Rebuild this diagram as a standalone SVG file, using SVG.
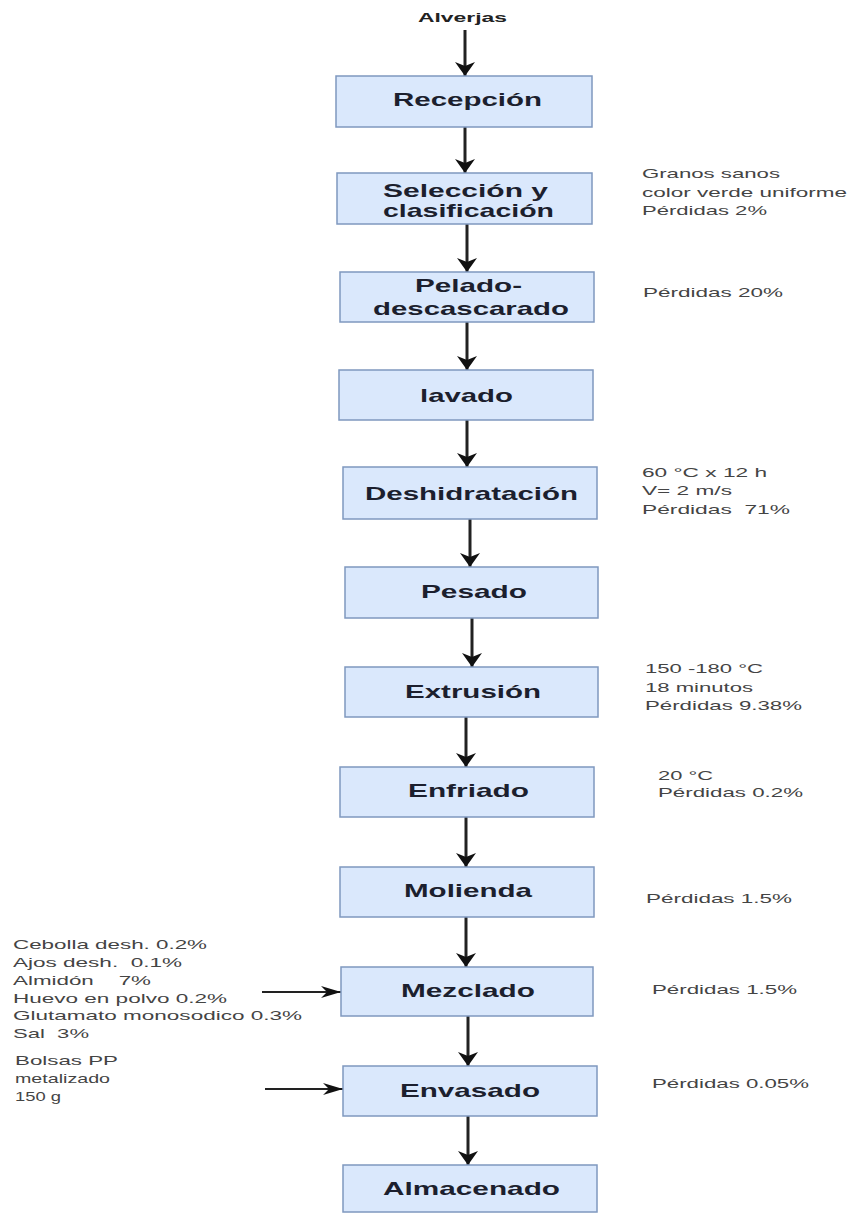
<svg xmlns="http://www.w3.org/2000/svg" width="851" height="1213" viewBox="0 0 851 1213" xml:space="preserve">
<style>
.box{fill:#dae8fc;stroke:#7f98bf;stroke-width:1.5}
.bt{font-family:"Liberation Sans",Arial,sans-serif;font-weight:bold;font-size:19px;fill:#1c1f2e}
.st{font-family:"Liberation Sans",Arial,sans-serif;font-size:13px;fill:#444;white-space:pre}
.top{font-family:"Liberation Sans",Arial,sans-serif;font-weight:bold;font-size:13px;fill:#222}
.cv{stroke:#222;stroke-width:3;fill:none}
.ch{stroke:#222;stroke-width:1.8;fill:none}
</style>
<defs>
<marker id="arrV" markerUnits="userSpaceOnUse" markerWidth="14" markerHeight="20" viewBox="0 0 14 20" refX="14" refY="10" orient="auto">
<path d="M0,0 L14,10 L0,20 L4,10 Z" fill="#111"/>
</marker>
<marker id="arrH" markerUnits="userSpaceOnUse" markerWidth="20" markerHeight="12" viewBox="0 0 20 12" refX="20" refY="6" orient="auto">
<path d="M0,0 L20,6 L0,12 L6,6 Z" fill="#111"/>
</marker>
</defs>
<rect width="851" height="1213" fill="#fff"/>
<g id="connectors">
<line class="cv" x1="465" y1="30" x2="465" y2="76" marker-end="url(#arrV)"/>
<line class="cv" x1="465" y1="127" x2="465" y2="173" marker-end="url(#arrV)"/>
<line class="cv" x1="467" y1="224" x2="467" y2="272" marker-end="url(#arrV)"/>
<line class="cv" x1="467" y1="322" x2="467" y2="370" marker-end="url(#arrV)"/>
<line class="cv" x1="467" y1="420" x2="467" y2="467" marker-end="url(#arrV)"/>
<line class="cv" x1="470" y1="519" x2="470" y2="567" marker-end="url(#arrV)"/>
<line class="cv" x1="472" y1="618" x2="472" y2="667" marker-end="url(#arrV)"/>
<line class="cv" x1="466" y1="717" x2="466" y2="767" marker-end="url(#arrV)"/>
<line class="cv" x1="466" y1="817" x2="466" y2="867" marker-end="url(#arrV)"/>
<line class="cv" x1="466" y1="917" x2="466" y2="967" marker-end="url(#arrV)"/>
<line class="cv" x1="468" y1="1016" x2="468" y2="1066" marker-end="url(#arrV)"/>
<line class="cv" x1="468" y1="1116" x2="468" y2="1165" marker-end="url(#arrV)"/>
<line class="ch" x1="262" y1="992" x2="341" y2="992" marker-end="url(#arrH)"/>
<line class="ch" x1="265" y1="1089" x2="343" y2="1089" marker-end="url(#arrH)"/>
</g>
<g id="alverjas"><text class="top" x="418" y="22" textLength="89" lengthAdjust="spacingAndGlyphs">Alverjas</text></g>
<g id="recepcion"><rect class="box" x="336" y="76" width="256" height="51"/><text class="bt" x="393" y="106" textLength="149" lengthAdjust="spacingAndGlyphs">Recepción</text></g>
<g id="seleccion"><rect class="box" x="337" y="173" width="255" height="51"/><text class="bt" x="383" y="197" textLength="165" lengthAdjust="spacingAndGlyphs">Selección y</text><text class="bt" x="383" y="217" textLength="171" lengthAdjust="spacingAndGlyphs">clasificación</text></g>
<g id="pelado"><rect class="box" x="340" y="272" width="254" height="50"/><text class="bt" x="415" y="292" textLength="107" lengthAdjust="spacingAndGlyphs">Pelado-</text><text class="bt" x="373" y="315" textLength="196" lengthAdjust="spacingAndGlyphs">descascarado</text></g>
<g id="lavado"><rect class="box" x="339" y="370" width="254" height="50"/><text class="bt" x="420" y="402" textLength="93" lengthAdjust="spacingAndGlyphs">lavado</text></g>
<g id="deshidratacion"><rect class="box" x="343" y="467" width="254" height="52"/><text class="bt" x="365" y="500" textLength="213" lengthAdjust="spacingAndGlyphs">Deshidratación</text></g>
<g id="pesado"><rect class="box" x="345" y="567" width="253" height="51"/><text class="bt" x="421" y="598" textLength="106" lengthAdjust="spacingAndGlyphs">Pesado</text></g>
<g id="extrusion"><rect class="box" x="345" y="667" width="253" height="50"/><text class="bt" x="405" y="698" textLength="136" lengthAdjust="spacingAndGlyphs">Extrusión</text></g>
<g id="enfriado"><rect class="box" x="340" y="767" width="254" height="50"/><text class="bt" x="408" y="797" textLength="121" lengthAdjust="spacingAndGlyphs">Enfriado</text></g>
<g id="molienda"><rect class="box" x="340" y="867" width="254" height="50"/><text class="bt" x="404" y="897" textLength="128" lengthAdjust="spacingAndGlyphs">Molienda</text></g>
<g id="mezclado"><rect class="box" x="341" y="967" width="252" height="49"/><text class="bt" x="401" y="997" textLength="134" lengthAdjust="spacingAndGlyphs">Mezclado</text></g>
<g id="envasado"><rect class="box" x="343" y="1066" width="254" height="50"/><text class="bt" x="400" y="1097" textLength="140" lengthAdjust="spacingAndGlyphs">Envasado</text></g>
<g id="almacenado"><rect class="box" x="343" y="1165" width="254" height="47"/><text class="bt" x="383" y="1195" textLength="177" lengthAdjust="spacingAndGlyphs">Almacenado</text></g>
<g id="notes-right">
<text class="st" x="642" y="178" textLength="138" lengthAdjust="spacingAndGlyphs">Granos sanos</text>
<text class="st" x="642" y="197" textLength="205" lengthAdjust="spacingAndGlyphs">color verde uniforme</text>
<text class="st" x="642" y="215" textLength="125" lengthAdjust="spacingAndGlyphs">Pérdidas 2%</text>
<text class="st" x="643" y="297" textLength="140" lengthAdjust="spacingAndGlyphs">Pérdidas 20%</text>
<text class="st" x="642" y="477" textLength="125" lengthAdjust="spacingAndGlyphs">60 °C x 12 h</text>
<text class="st" x="642" y="495" textLength="90" lengthAdjust="spacingAndGlyphs">V= 2 m/s</text>
<text class="st" x="642" y="514" textLength="148" lengthAdjust="spacingAndGlyphs">Pérdidas  71%</text>
<text class="st" x="645" y="673" textLength="118" lengthAdjust="spacingAndGlyphs">150 -180 °C</text>
<text class="st" x="645" y="692" textLength="108" lengthAdjust="spacingAndGlyphs">18 minutos</text>
<text class="st" x="645" y="710" textLength="157" lengthAdjust="spacingAndGlyphs">Pérdidas 9.38%</text>
<text class="st" x="658" y="780" textLength="55" lengthAdjust="spacingAndGlyphs">20 °C</text>
<text class="st" x="658" y="797" textLength="145" lengthAdjust="spacingAndGlyphs">Pérdidas 0.2%</text>
<text class="st" x="646" y="903" textLength="146" lengthAdjust="spacingAndGlyphs">Pérdidas 1.5%</text>
<text class="st" x="652" y="994" textLength="145" lengthAdjust="spacingAndGlyphs">Pérdidas 1.5%</text>
<text class="st" x="652" y="1088" textLength="157" lengthAdjust="spacingAndGlyphs">Pérdidas 0.05%</text>
</g>
<g id="notes-left">
<text class="st" x="13" y="949" textLength="194" lengthAdjust="spacingAndGlyphs">Cebolla desh. 0.2%</text>
<text class="st" x="13" y="967" textLength="169" lengthAdjust="spacingAndGlyphs">Ajos desh.  0.1%</text>
<text class="st" x="13" y="985" textLength="138" lengthAdjust="spacingAndGlyphs">Almidón    7%</text>
<text class="st" x="13" y="1003" textLength="214" lengthAdjust="spacingAndGlyphs">Huevo en polvo 0.2%</text>
<text class="st" x="13" y="1020" textLength="289" lengthAdjust="spacingAndGlyphs">Glutamato monosodico 0.3%</text>
<text class="st" x="13" y="1038" textLength="76" lengthAdjust="spacingAndGlyphs">Sal  3%</text>
<text class="st" x="15" y="1065" textLength="103" lengthAdjust="spacingAndGlyphs">Bolsas PP</text>
<text class="st" x="15" y="1083" textLength="95" lengthAdjust="spacingAndGlyphs">metalizado</text>
<text class="st" x="15" y="1101" textLength="46" lengthAdjust="spacingAndGlyphs">150 g</text>
</g>
</svg>
